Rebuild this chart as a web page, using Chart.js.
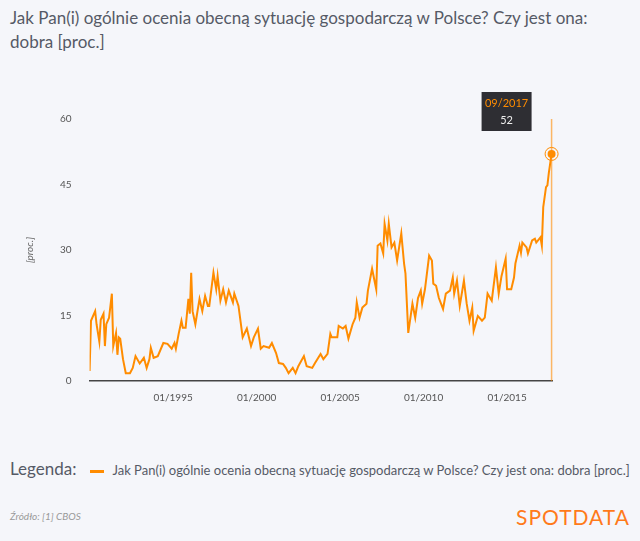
<!DOCTYPE html>
<html>
<head>
<meta charset="utf-8">
<script src="https://cdn.jsdelivr.net/npm/chart.js@4"></script>
<style>
  body { margin:0; background:#f5f6fa; font-family:Lato, sans-serif; width:640px; height:541px; overflow:hidden; position:relative; }
  #title { position:absolute; left:10px; top:6px; width:620px; font-size:17px; line-height:24px; color:#555a66; }
  #box { position:absolute; left:0; top:90px; width:575px; height:317px; }
  #legend { position:absolute; left:10px; top:458px; font-size:17px; color:#555a66; }
  #legend span.item { font-size:13px; margin-left:14px; }
  #legend i { display:inline-block; width:14px; height:3px; background:#ff8c00; vertical-align:middle; margin-right:8px; }
  #src { position:absolute; left:10px; top:510px; font-size:10px; font-style:italic; color:#999; }
  #logo { position:absolute; right:10px; top:504px; font-size:21px; color:#ff7a1a; letter-spacing:1px; }
</style>
</head>
<body>
<div id="title">Jak Pan(i) ogólnie ocenia obecną sytuację gospodarczą w Polsce? Czy jest ona: dobra [proc.]</div>
<div id="box"><canvas id="myChart"></canvas></div>
<div id="legend">Legenda:<span class="item"><i></i>Jak Pan(i) ogólnie ocenia obecną sytuację gospodarczą w Polsce? Czy jest ona: dobra [proc.]</span></div>
<div id="src">Źródło: [1] CBOS</div>
<div id="logo">SPOTDATA</div>
<script>
var dates = ['01/1990','02/1990','05/1990','06/1990','08/1990','09/1990','11/1990','12/1990',
  '01/1991','03/1991','05/1991','06/1991','08/1991','09/1991','10/1991','11/1991',
  '01/1992','03/1992','06/1992','08/1992','10/1992',
  '01/1993','04/1993','06/1993','08/1993','09/1993','11/1993',
  '02/1994','06/1994','09/1994','12/1994',
  '02/1995','03/1995','05/1995','07/1995','08/1995','10/1995','12/1995',
  '01/1996','02/1996','03/1996','05/1996','08/1996','10/1996','12/1996',
  '02/1997','03/1997','06/1997','08/1997','09/1997','11/1997',
  '01/1998','03/1998','05/1998','08/1998','09/1998','12/1998',
  '03/1999','06/1999','09/1999','11/1999',
  '02/2000','04/2000','06/2000','10/2000','12/2000',
  '03/2001','05/2001','08/2001','10/2001','12/2001',
  '03/2002','05/2002','07/2002','11/2002',
  '01/2003','05/2003','07/2003','11/2003',
  '01/2004','04/2004','06/2004','07/2004','11/2004','12/2004',
  '03/2005','05/2005','07/2005','10/2005','12/2005',
  '01/2006','03/2006','05/2006','08/2006','09/2006','12/2006',
  '03/2007','04/2007','06/2007','08/2007','09/2007','11/2007','12/2007',
  '02/2008','04/2008','06/2008','09/2008','11/2008','12/2008',
  '02/2009','05/2009','07/2009','09/2009','11/2009','12/2009',
  '02/2010','05/2010','07/2010','08/2010','10/2010','12/2010',
  '03/2011','05/2011','08/2011','10/2011','11/2011',
  '01/2012','03/2012','06/2012','08/2012','10/2012','12/2012',
  '01/2013','04/2013','07/2013','09/2013','11/2013',
  '02/2014','05/2014','07/2014','09/2014','12/2014',
  '01/2015','04/2015','06/2015','07/2015','10/2015','11/2015','12/2015',
  '03/2016','04/2016','07/2016','09/2016','10/2016',
  '01/2017','02/2017','03/2017','05/2017','06/2017','07/2017','09/2017'];
var values = [2.3,13.8,16,13,9,14,15.4,8,
  13,14.5,20,8,11,6,10,9.7,
  5,1.8,1.8,3,5.7,
  4,5.3,3,5,7.6,5.3,
  5.7,8.7,8.5,7.4,
  8.7,7.4,10.8,13.8,12.2,12.2,18.8,
  15.4,24.8,16,13,18.8,16,19.5,
  17.2,17.2,24.8,21,24,18.4,
  21,18,20.7,18,20,17.2,
  10,12,8,10,
  12,7.4,8,7.6,8.7,
  6.4,4.1,3.9,3,1.8,
  3,1.8,3.4,5.7,
  3.4,3,4.1,6.2,
  5,6.2,10.8,10,10,12.6,
  12,12.6,9.7,13,14.5,
  18,14.5,16.8,17.7,20.7,25.7,
  21,31,31.5,29.2,36,32.2,36,
  30.6,31.7,27.6,33.8,26.9,24.6,
  11,17.7,14.5,19,20.7,17.7,
  21,28.7,27.6,22.3,21.8,19,
  16.5,20,20.7,23.7,20,
  23,17.2,23,17.7,13.8,16.8,
  11.5,14.9,13.8,14.5,20,
  18.4,26,20,24,28,
  21,21,23.7,26.9,31,29.4,31.7,
  30.6,29.2,32.2,32.6,31.7,
  32.9,31,39.8,44.4,44.8,47.6,52];
var yTicks = [0, 15, 30, 45, 60];
var xTickLabels = ['01/1995', '01/2000', '01/2005', '01/2010', '01/2015'];

function monthIdx(s) { var p = s.split('/'); return (parseInt(p[1]) - 1990) * 12 + parseInt(p[0]) - 1; }
var points = dates.map(function(d, i) { return { x: monthIdx(d), y: values[i] }; });
var xTickVals = xTickLabels.map(monthIdx);

var lastMarker = {
  id: 'lastMarker',
  afterDatasetsDraw: function(chart) {
    var ctx = chart.ctx, meta = chart.getDatasetMeta(0);
    var pt = meta.data[meta.data.length - 1];
    var top = chart.scales.y.getPixelForValue(60), bottom = chart.scales.y.getPixelForValue(0);
    ctx.save();
    ctx.strokeStyle = 'rgba(255,140,0,0.6)';
    ctx.lineWidth = 1.5;
    ctx.beginPath(); ctx.moveTo(pt.x, top); ctx.lineTo(pt.x, bottom); ctx.stroke();
    ctx.fillStyle = '#ff8c00';
    ctx.beginPath(); ctx.arc(pt.x, pt.y, 4, 0, Math.PI * 2); ctx.fill();
    ctx.strokeStyle = '#ff8c00'; ctx.lineWidth = 1;
    ctx.beginPath(); ctx.arc(pt.x, pt.y, 6.5, 0, Math.PI * 2); ctx.stroke();
    var bw = 50, bh = 39, bx = pt.x - 70, by = top - 27;
    ctx.fillStyle = '#2e2e33';
    ctx.fillRect(bx, by, bw, bh);
    ctx.textAlign = 'center';
    ctx.font = '11px Lato';
    ctx.fillStyle = '#ff8c00';
    ctx.fillText(dates[dates.length - 1], bx + bw / 2, by + 15);
    ctx.fillStyle = '#eee';
    ctx.fillText(String(values[values.length - 1]), bx + bw / 2, by + 32);
    ctx.restore();
  }
};

new Chart(document.getElementById('myChart'), {
  type: 'line',
  data: { datasets: [{ data: points, borderColor: '#ff8c00', borderWidth: 2, pointRadius: 0, tension: 0 }] },
  options: {
    responsive: true, maintainAspectRatio: false, animation: false,
    layout: { padding: { top: 29, right: 23, left: 10, bottom: 0 } },
    plugins: { legend: { display: false }, tooltip: { enabled: false } },
    scales: {
      x: {
        type: 'linear', min: 0, max: monthIdx('09/2017') + 0.3,
        afterBuildTicks: function(ax) { ax.ticks = xTickVals.map(function(v) { return { value: v }; }); },
        ticks: { color: '#555', font: { size: 10, family: 'Lato' }, maxRotation: 0,
          callback: function(v) { return xTickLabels[xTickVals.indexOf(v)]; } },
        grid: { display: false },
        border: { color: '#444', width: 1.5 }
      },
      y: {
        min: 0, max: 60,
        afterBuildTicks: function(ax) { ax.ticks = yTicks.map(function(v) { return { value: v }; }); },
        ticks: { color: '#555', font: { size: 10, family: 'Lato' }, padding: 10 },
        grid: { display: false },
        border: { display: false },
        title: { display: true, text: '[proc.]', color: '#666', font: { size: 10, style: 'italic', family: 'Lato' }, padding: 14 }
      }
    }
  },
  plugins: [lastMarker]
});
</script>
</body>
</html>
